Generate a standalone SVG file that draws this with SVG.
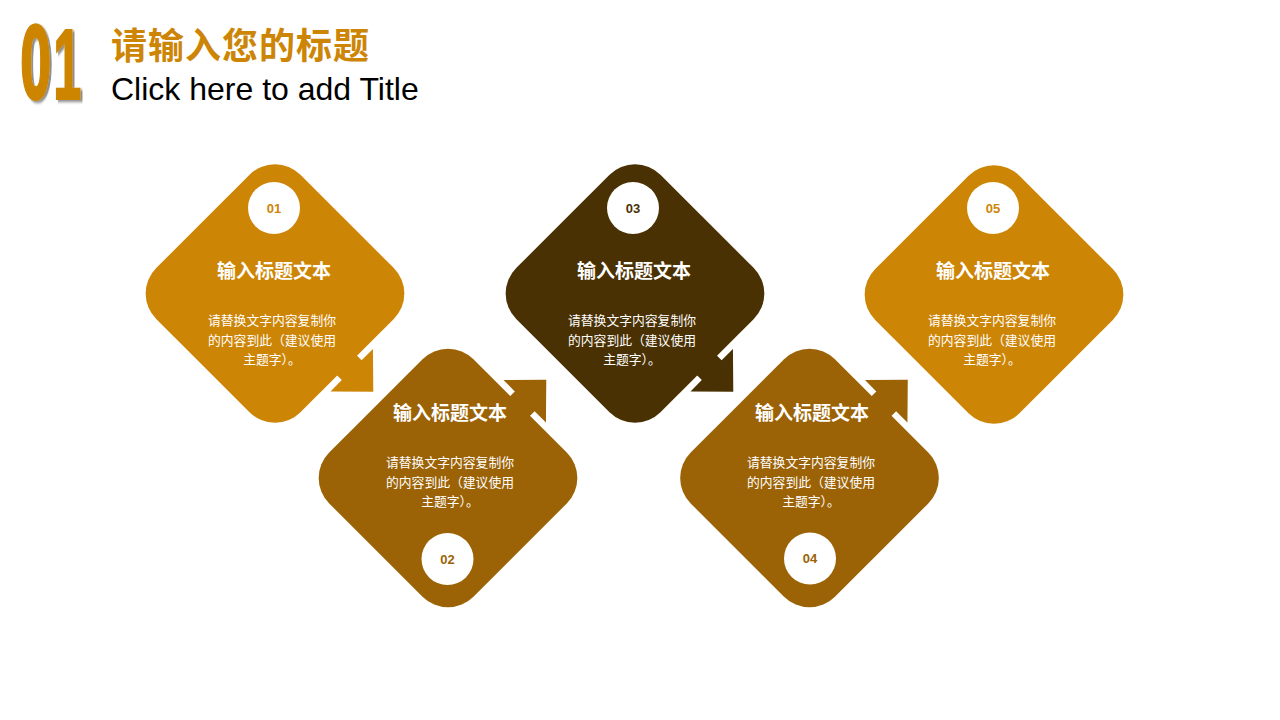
<svg xmlns="http://www.w3.org/2000/svg" width="1280" height="720" viewBox="0 0 1280 720">
  <defs>
    <filter id="sh" x="-20%" y="-20%" width="150%" height="150%">
      <feGaussianBlur in="SourceAlpha" stdDeviation="1.5"/>
      <feOffset dx="3" dy="2" result="b"/>
      <feFlood flood-color="#000" flood-opacity="0.45"/>
      <feComposite in2="b" operator="in"/>
      <feMerge><feMergeNode/><feMergeNode in="SourceGraphic"/></feMerge>
    </filter>
    <rect id="dia" x="-102" y="-102" width="204" height="204" rx="36" ry="36"/>
    <polygon id="arr" points="80,-14 108.5,-14 108.5,-30 139,0 108.5,30 108.5,14 80,14"/>
  </defs>
  <style>
    .c1{fill:#CD8506}
    .c2{fill:#9B6306}
    .c3{fill:#4A3103}
    .circ{fill:#ffffff}
    .num{font-family:"Liberation Sans","Noto Sans",sans-serif;font-weight:bold;font-size:13px;text-anchor:middle}
    .ttl{font-family:"Noto Sans CJK SC","Noto Sans",sans-serif;font-weight:bold;font-size:19px;fill:#ffffff;text-anchor:middle}
    .body{font-family:"Noto Sans CJK SC","Noto Sans",sans-serif;font-size:12.8px;fill:#ffffff;text-anchor:middle}
  </style>
  <rect width="1280" height="720" fill="#ffffff"/>

  <g id="header">
    <text transform="translate(20,99) scale(0.5,1)" font-family="DejaVu Sans Condensed, DejaVu Sans, sans-serif" font-weight="bold" font-size="100" fill="#CD8506" stroke="#CD8506" stroke-width="2" filter="url(#sh)">0<tspan dx="4" font-family="Liberation Sans, Arial, sans-serif" font-size="101">1</tspan></text>
    <text x="111" y="59" font-family="Noto Sans CJK SC, sans-serif" font-weight="bold" font-size="36" letter-spacing="1" fill="#CD8506">请输入您的标题</text>
    <text x="111" y="100" font-family="Liberation Sans, Arial, sans-serif" font-size="32" fill="#000000">Click here to add Title</text>
  </g>

  <g id="connectors">
    <use href="#arr" class="c1" transform="translate(275,293.5) rotate(45)"/>
    <use href="#arr" class="c2" transform="translate(448,478) rotate(-45)"/>
    <use href="#arr" class="c3" transform="translate(635,293.5) rotate(45)"/>
    <use href="#arr" class="c2" transform="translate(809.5,478) rotate(-45)"/>
  </g>

  <g id="node1">
    <use href="#dia" class="c1" transform="translate(275,293.5) rotate(45)"/>
    <circle class="circ" cx="274" cy="208" r="26"/>
    <text class="num" x="274" y="212.5" fill="#CD8506">01</text>
    <text class="ttl" x="274" y="278">输入标题文本</text>
    <text class="body" x="272" y="325">请替换文字内容复制你</text>
    <text class="body" x="272" y="344.5">的内容到此（建议使用</text>
    <text class="body" x="272" y="364">主题字）。</text>
  </g>

  <g id="node2">
    <use href="#dia" class="c2" transform="translate(448,478) rotate(-45)"/>
    <circle class="circ" cx="447.5" cy="559" r="26"/>
    <text class="num" x="447.5" y="563.5" fill="#9B6306">02</text>
    <text class="ttl" x="450" y="420">输入标题文本</text>
    <text class="body" x="450" y="467">请替换文字内容复制你</text>
    <text class="body" x="450" y="486.5">的内容到此（建议使用</text>
    <text class="body" x="450" y="506">主题字）。</text>
  </g>

  <g id="node3">
    <use href="#dia" class="c3" transform="translate(635,293.5) rotate(45)"/>
    <circle class="circ" cx="633" cy="208" r="26"/>
    <text class="num" x="633" y="212.5" fill="#4A3103">03</text>
    <text class="ttl" x="634" y="278">输入标题文本</text>
    <text class="body" x="632" y="325">请替换文字内容复制你</text>
    <text class="body" x="632" y="344.5">的内容到此（建议使用</text>
    <text class="body" x="632" y="364">主题字）。</text>
  </g>

  <g id="node4">
    <use href="#dia" class="c2" transform="translate(809.5,478) rotate(-45)"/>
    <circle class="circ" cx="810" cy="558.5" r="26"/>
    <text class="num" x="810" y="563" fill="#9B6306">04</text>
    <text class="ttl" x="812" y="420">输入标题文本</text>
    <text class="body" x="811" y="467">请替换文字内容复制你</text>
    <text class="body" x="811" y="486.5">的内容到此（建议使用</text>
    <text class="body" x="811" y="506">主题字）。</text>
  </g>

  <g id="node5">
    <use href="#dia" class="c1" transform="translate(994,294.5) rotate(45)"/>
    <circle class="circ" cx="993" cy="208" r="26"/>
    <text class="num" x="993" y="212.5" fill="#CD8506">05</text>
    <text class="ttl" x="993" y="278">输入标题文本</text>
    <text class="body" x="992" y="325">请替换文字内容复制你</text>
    <text class="body" x="992" y="344.5">的内容到此（建议使用</text>
    <text class="body" x="992" y="364">主题字）。</text>
  </g>
</svg>
